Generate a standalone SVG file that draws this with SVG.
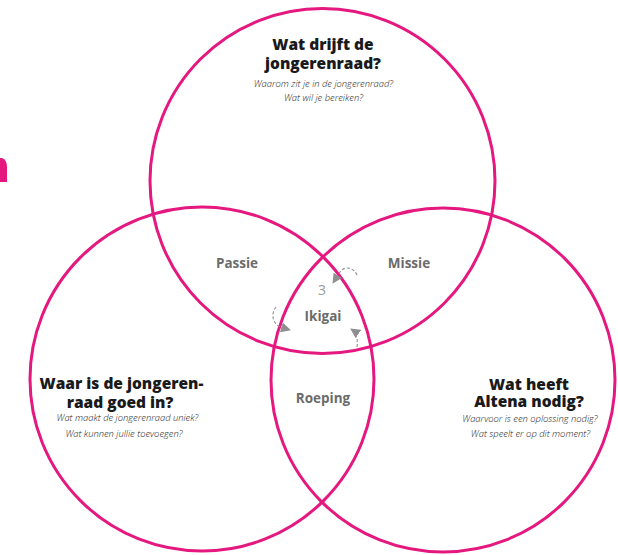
<svg xmlns="http://www.w3.org/2000/svg" width="618" height="555" viewBox="0 0 618 555">
<style>
.circle{fill:none;stroke:#E5187F;stroke-width:3}
.h{font-family:"Open Sans","Liberation Sans",sans-serif;font-weight:800;font-size:15.5px;fill:#1a1a1a;text-anchor:middle}
.s{font-family:"Open Sans","Liberation Sans",sans-serif;font-weight:300;font-style:italic;font-size:9.4px;fill:#222;text-anchor:middle}
.o{font-family:"Open Sans","Liberation Sans",sans-serif;font-weight:700;font-size:13.5px;fill:#6b6b6b;text-anchor:middle}
.n{font-family:"Open Sans","Liberation Sans",sans-serif;font-weight:400;font-size:14px;fill:#9a9a9a;text-anchor:middle}
.arc{fill:none;stroke:#8f8f8f;stroke-width:1.1;stroke-dasharray:3 2}
</style>
<defs>
<marker id="ah" viewBox="0 0 10 10" refX="9" refY="5" markerWidth="10" markerHeight="10" markerUnits="userSpaceOnUse" orient="auto">
<path d="M0,0 L10,5 L0,10 Z" fill="#8f8f8f"/>
</marker>
</defs>
<path d="M0,158 L2,158 Q7,160 7,167 L7,182 L0,182 Z" fill="#E5187F"/>
<g id="circle-top"><circle class="circle" cx="322.5" cy="181" r="172.5"/></g>
<g id="circle-left"><circle class="circle" cx="202" cy="379" r="172"/></g>
<g id="circle-right"><circle class="circle" cx="443" cy="380" r="172"/></g>
<g id="top-text">
<text class="h" x="323" y="50">Wat drijft de</text>
<text class="h" x="323" y="68.5">jongerenraad?</text>
<text class="s" x="323.5" y="87">Waarom zit je in de jongerenraad?</text>
<text class="s" x="323.5" y="101">Wat wil je bereiken?</text>
</g>
<g id="left-text">
<text class="h" x="121.5" y="389">Waar is de jongeren-</text>
<text class="h" x="120" y="407.5">raad goed in?</text>
<text class="s" x="127.5" y="421">Wat maakt de jongerenraad uniek?</text>
<text class="s" x="124" y="437">Wat kunnen jullie toevoegen?</text>
</g>
<g id="right-text">
<text class="h" x="529" y="389.5">Wat heeft</text>
<text class="h" x="529" y="406.5">Altena nodig?</text>
<text class="s" x="530" y="422">Waarvoor is een oplossing nodig?</text>
<text class="s" x="530.5" y="437">Wat speelt er op dit moment?</text>
</g>
<g id="passie"><text class="o" x="237" y="268">Passie</text></g>
<g id="missie"><text class="o" x="409" y="268">Missie</text></g>
<g id="roeping"><text class="o" x="323" y="403">Roeping</text></g>
<g id="ikigai"><text class="o" x="323" y="321">Ikigai</text><text class="n" x="322" y="295">3</text></g>
<g id="connectors">
<path class="arc" d="M357,275 C354,268 345,265 340,272 L333,283" marker-end="url(#ah)"/>
<path class="arc" d="M276,307 C271,313 272,323 280,327 L290,330" marker-end="url(#ah)"/>
<path class="arc" d="M357,347 C358,340 357,333 351,329" marker-end="url(#ah)"/>
</g>
</svg>
